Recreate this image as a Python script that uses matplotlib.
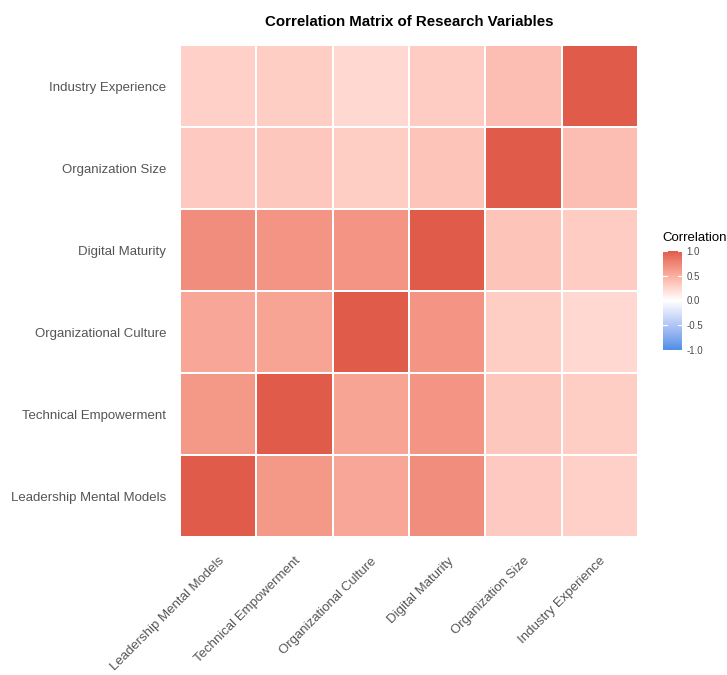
import numpy as np
import matplotlib.pyplot as plt
from matplotlib.colors import ListedColormap, to_rgb

# variables (bottom to top on the y axis, left to right on x)
variables = ["Leadership Mental Models", "Technical Empowerment", "Organizational Culture",
             "Digital Maturity", "Organization Size", "Industry Experience"]

# correlation rows, same order as variables
r_leadership = [1.00, 0.64, 0.55, 0.71, 0.33, 0.29]
r_technical = [0.64, 1.00, 0.57, 0.66, 0.35, 0.31]
r_culture = [0.55, 0.57, 1.00, 0.66, 0.30, 0.24]
r_digital = [0.71, 0.66, 0.66, 1.00, 0.36, 0.32]
r_size = [0.33, 0.35, 0.30, 0.36, 1.00, 0.40]
r_industry = [0.29, 0.31, 0.24, 0.32, 0.40, 1.00]

cbar_ticks = [-1.0, -0.5, 0.0, 0.5, 1.0]

corr = np.array([r_leadership, r_technical, r_culture, r_digital, r_size, r_industry])


# ---- colour ramp interpolated in CIELAB (like ggplot's gradient2) ----
WP = np.array([0.95047, 1.0, 1.08883])
M = np.array([[0.4124, 0.3576, 0.1805], [0.2126, 0.7152, 0.0722], [0.0193, 0.1192, 0.9505]])


def to_lab(c):
    c = np.array(to_rgb(c))
    lin = np.where(c <= 0.04045, c / 12.92, ((c + 0.055) / 1.055) ** 2.4)
    xyz = M @ lin / WP
    f = np.where(xyz > 0.008856, np.cbrt(xyz), 7.787 * xyz + 16 / 116)
    return np.array([116 * f[1] - 16, 500 * (f[0] - f[1]), 200 * (f[1] - f[2])])


def from_lab(lab):
    fy = (lab[0] + 16) / 116
    fx = fy + lab[1] / 500
    fz = fy - lab[2] / 200
    f = np.array([fx, fy, fz])
    xyz = np.where(f ** 3 > 0.008856, f ** 3, (f - 16 / 116) / 7.787) * WP
    lin = np.clip(np.linalg.solve(M, xyz), 0, 1)
    c = np.where(lin <= 0.0031308, 12.92 * lin, 1.055 * lin ** (1 / 2.4) - 0.055)
    return np.clip(c, 0, 1)


low, mid, high = to_lab("#4A8FE6"), to_lab("#FFFFFF"), to_lab("#E15B4B")
ramp = []
for t in np.linspace(-1, 1, 256):
    if t < 0:
        ramp.append(from_lab(mid + (low - mid) * (-t)))
    else:
        ramp.append(from_lab(mid + (high - mid) * t))
cmap = ListedColormap(ramp)

plt.rcParams['font.family'] = ['Liberation Sans', 'DejaVu Sans']

fig = plt.figure(figsize=(7.27, 6.75), dpi=100)
ax = fig.add_axes([180 / 727, 1 - 537 / 675, 458 / 727, 492 / 675])

n = len(variables)
mesh = ax.pcolormesh(np.arange(n + 1), np.arange(n + 1), corr, cmap=cmap, vmin=-1, vmax=1,
                     edgecolors="white", linewidth=1.2)
ax.set_xlim(0, n)
ax.set_ylim(0, n)
for s in ax.spines.values():
    s.set_visible(False)

ax.set_xticks(np.arange(n) + 0.5)
ax.set_yticks(np.arange(n) + 0.5)
ax.set_xticklabels(variables, rotation=45, ha="right", rotation_mode="anchor",
                   fontsize=9.5, color="#555555")
ax.set_yticklabels(variables, fontsize=9.5, color="#555555")
ax.tick_params(length=0, pad=10)
ax.tick_params(axis="x", pad=13)

ax.set_title("Correlation Matrix of Research Variables", fontsize=10.8, fontweight="bold",
             pad=14)

# colour legend
cax = fig.add_axes([663 / 727, 1 - 350 / 675, 19 / 727, 99 / 675])
cb = fig.colorbar(mesh, cax=cax, ticks=cbar_ticks)
cb.outline.set_visible(False)
cb.ax.tick_params(labelsize=7, length=0, pad=3, colors="#4d4d4d")
cb.ax.set_yticklabels(["-1.0", "-0.5", "0.0", "0.5", "1.0"])
for t in cbar_ticks:
    cax.plot([0, 0.2], [t, t], color="white", lw=0.8)
    cax.plot([0.8, 1], [t, t], color="white", lw=0.8)
cax.set_xlim(0, 1)
fig.text(662 / 727, 1 - 238 / 675, "Correlation", fontsize=9.5, va="center", ha="left")

fig.savefig("out.png", dpi=100, facecolor="white")
